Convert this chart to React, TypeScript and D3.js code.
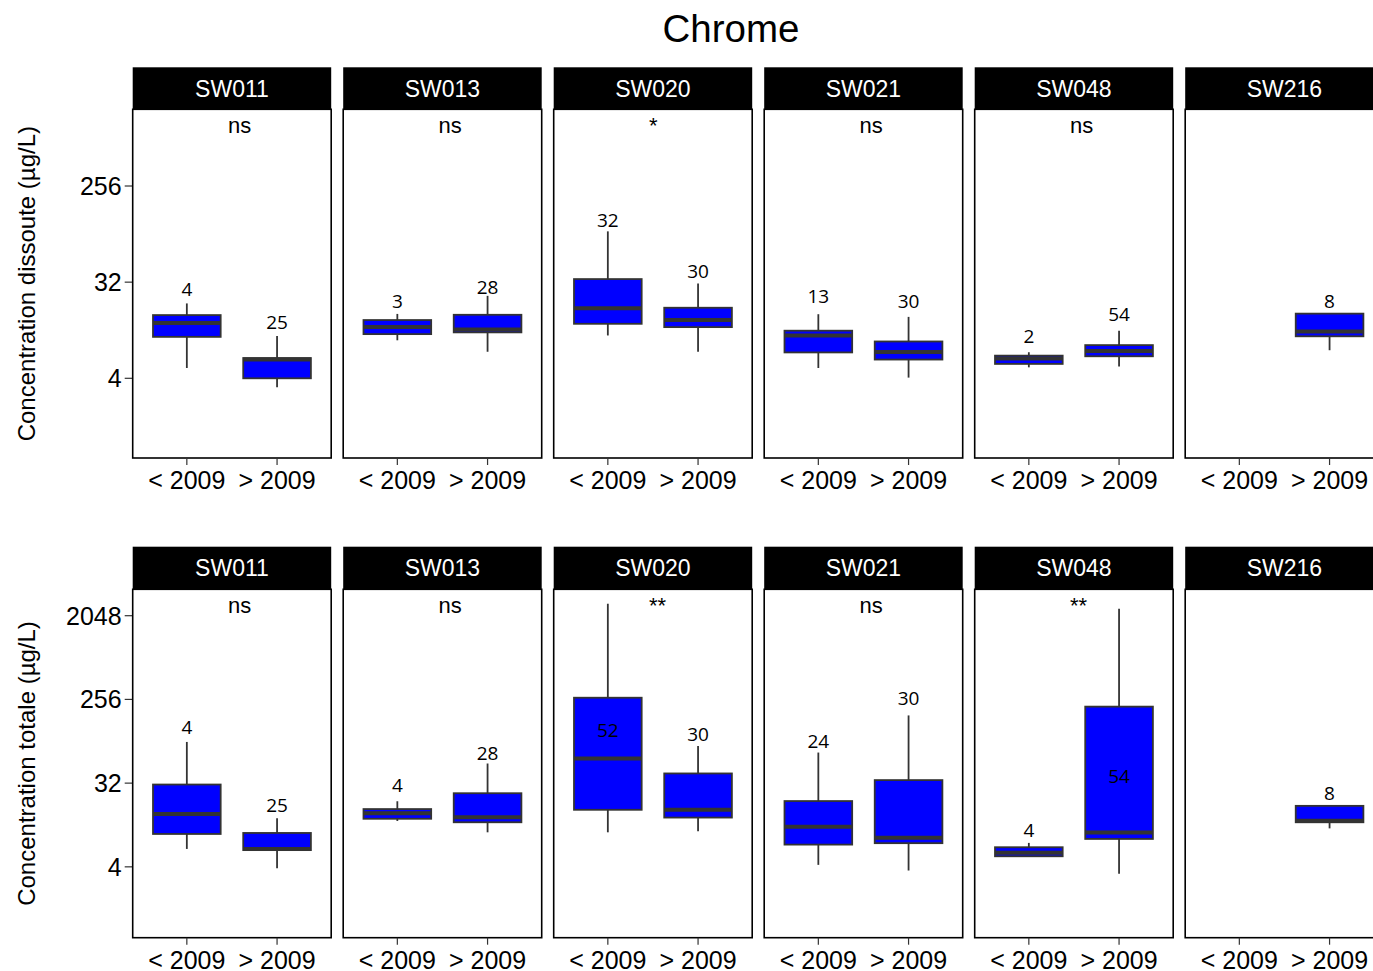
import React from "react";
import * as d3 from "d3";

// ---- data ----
const title = "Chrome";
const sites = ["SW011", "SW013", "SW020", "SW021", "SW048", "SW216"];
const periods = ["< 2009", "> 2009"];

// Dissolved concentration (µg/L): [< 2009, > 2009] per site (null = no data)
const dissMin = [[5.0, 3.3], [9.1, 7.1], [10.1, 7.1], [5.0, 4.06], [5.07, 5.16], [null, 7.34]];
const dissQ1 = [[9.8, 4.0], [10.4, 10.8], [13.0, 12.1], [7.0, 6.0], [5.46, 6.44], [null, 9.92]];
const dissMed = [[13.2, 6.0], [12.1, 11.5], [18.2, 14.1], [10.1, 7.07], [6.13, 7.2], [null, 11.0]];
const dissQ3 = [[15.7, 6.2], [14.1, 15.8], [34.2, 18.4], [11.2, 8.87], [6.53, 8.2], [null, 16.2]];
const dissMax = [[20.2, 10.0], [16.1, 23.8], [96, 31.1], [16, 15.1], [7.03, 11.2], [null, 16.2]];
const dissN = [[4, 25], [3, 28], [32, 30], [13, 30], [2, 54], [null, 8]];
const dissLabelY = [[27.5, 13.5], [21.4, 28.5], [123, 40.3], [23.4, 21.3], [9.87, 16], [null, 21.3]];
const dissSig = ["ns", "ns", "*", "ns", "ns", ""];
const dissDomain = [0.7136, 1345];
const dissTicks = [4, 32, 256];

// Total concentration (µg/L)
const totMin = [[6.24, 3.87], [12.5, 9.43], [9.43, 9.66], [4.2, 3.65], [5.2, 3.36], [null, 10.4]];
const totQ1 = [[9.05, 6.06], [13.2, 12.1], [16.5, 13.6], [6.95, 7.2], [5.2, 8.0], [null, 12.1]];
const totMed = [[14.9, 6.24], [15.1, 13.7], [58.9, 16.5], [10.8, 8.26], [5.66, 9.37], [null, 12.6]];
const totQ3 = [[30.9, 9.28], [16.8, 24.9], [267, 40.7], [20.5, 34.5], [6.51, 214], [null, 18.2]];
const totMax = [[89, 13.4], [20.4, 52.1], [2757, 80.6], [68.4, 172], [7.25, 2435], [null, 18.2]];
const totN = [[4, 25], [4, 28], [52, 30], [24, 30], [4, 54], [null, 8]];
const totLabelY = [[127, 18.6], [30.4, 67.3], [119, 109], [91.3, 267], [9.83, 38.3], [null, 25]];
const totSig = ["ns", "ns", "**", "ns", "**", ""];
const totDomain = [0.688, 3946];
const totTicks = [4, 32, 256, 2048];

const yTitles = ["Concentration dissoute (µg/L)", "Concentration totale (µg/L)"];

// ---- layout ----
const W = 1373;
const H = 971;
const panelLeft0 = 132.7;
const panelStep = 210.5;
const panelW = 198.5;
const rows = [
  { stripTop: 67.3, panelTop: 109.3, panelBottom: 458 },
  { stripTop: 546.7, panelTop: 589.3, panelBottom: 937.7 },
];
const FONT = "'Liberation Sans', Arial, Helvetica, sans-serif";
const LABEL_FONT = "'Open Sans', 'Noto Sans', sans-serif";

type RowData = {
  min: (number | null)[][];
  q1: (number | null)[][];
  med: (number | null)[][];
  q3: (number | null)[][];
  max: (number | null)[][];
  n: (number | null)[][];
  labelY: (number | null)[][];
  sig: string[];
  domain: number[];
  ticks: number[];
};

const rowData: RowData[] = [
  { min: dissMin, q1: dissQ1, med: dissMed, q3: dissQ3, max: dissMax, n: dissN, labelY: dissLabelY, sig: dissSig, domain: dissDomain, ticks: dissTicks },
  { min: totMin, q1: totQ1, med: totMed, q3: totQ3, max: totMax, n: totN, labelY: totLabelY, sig: totSig, domain: totDomain, ticks: totTicks },
];

function Row({ r }: { r: number }) {
  const L = rows[r];
  const D = rowData[r];
  const y = d3.scaleLog().base(2).domain(D.domain).range([L.panelBottom, L.panelTop]);
  const x = d3.scalePoint<string>().domain(periods).range([0, panelW]).padding(0.6);
  const bw = x.step() * 0.75;
  const stripH = L.panelTop - L.stripTop;
  const midY = (L.panelTop + L.panelBottom) / 2;
  return (
    <g>
      {/* y axis title */}
      <text
        transform={`translate(35,${midY}) rotate(-90)`}
        textAnchor="middle"
        fontFamily={FONT}
        fontSize={24}
        fill="#000"
      >
        {yTitles[r]}
      </text>
      {/* y ticks */}
      {D.ticks.map((t) => (
        <g key={t}>
          <line x1={panelLeft0 - 8} x2={panelLeft0} y1={y(t)} y2={y(t)} stroke="#333" strokeWidth={1.2} />
          <text
            x={panelLeft0 - 11}
            y={y(t)}
            dy="0.36em"
            textAnchor="end"
            fontFamily={FONT}
            fontSize={25}
            fill="#000"
          >
            {t}
          </text>
        </g>
      ))}
      {sites.map((s, i) => {
        const px = panelLeft0 + i * panelStep;
        return (
          <g key={s} transform={`translate(${px},0)`}>
            {/* strip */}
            <rect x={0} y={L.stripTop} width={panelW} height={stripH} fill="#000" />
            <text
              x={panelW / 2}
              y={L.stripTop + stripH / 2}
              dy="0.36em"
              textAnchor="middle"
              fontFamily={FONT}
              fontSize={23}
              fill="#fff"
            >
              {s}
            </text>
            {/* panel */}
            <rect
              x={0}
              y={L.panelTop}
              width={panelW}
              height={L.panelBottom - L.panelTop}
              fill="#fff"
              stroke="#000"
              strokeWidth={1.6}
            />
            {/* significance */}
            {D.sig[i] && (
              <text
                x={panelW / 2 - 4}
                y={L.panelTop + 23.4}
                textAnchor="start"
                fontFamily={FONT}
                fontSize={22}
                fill="#000"
              >
                {D.sig[i]}
              </text>
            )}
            {/* boxes */}
            {periods.map((p, j) => {
              const cx = x(p) as number;
              const mn = D.min[i][j];
              if (mn == null) return null;
              const q1 = D.q1[i][j] as number;
              const md = D.med[i][j] as number;
              const q3 = D.q3[i][j] as number;
              const mx = D.max[i][j] as number;
              return (
                <g key={p}>
                  <line x1={cx} x2={cx} y1={y(mx)} y2={y(q3)} stroke="#333" strokeWidth={1.8} />
                  <line x1={cx} x2={cx} y1={y(q1)} y2={y(mn)} stroke="#333" strokeWidth={1.8} />
                  <rect
                    x={cx - bw / 2}
                    y={y(q3)}
                    width={bw}
                    height={Math.max(0, y(q1) - y(q3))}
                    fill="#0000ff"
                    stroke="#333"
                    strokeWidth={1.8}
                  />
                  <line
                    x1={cx - bw / 2}
                    x2={cx + bw / 2}
                    y1={y(md)}
                    y2={y(md)}
                    stroke="#333"
                    strokeWidth={4}
                  />
                  <text
                    x={cx}
                    y={y(D.labelY[i][j] as number)}
                    dy="0.36em"
                    textAnchor="middle"
                    fontFamily={LABEL_FONT}
                    fontSize={19}
                    fill="#000"
                  >
                    {D.n[i][j]}
                  </text>
                </g>
              );
            })}
            {/* x ticks */}
            {periods.map((p) => (
              <g key={p}>
                <line
                  x1={x(p) as number}
                  x2={x(p) as number}
                  y1={L.panelBottom}
                  y2={L.panelBottom + 7}
                  stroke="#333"
                  strokeWidth={1.2}
                />
                <text
                  x={x(p) as number}
                  y={L.panelBottom + 31}
                  textAnchor="middle"
                  fontFamily={FONT}
                  fontSize={25}
                  fill="#000"
                >
                  {p}
                </text>
              </g>
            ))}
          </g>
        );
      })}
    </g>
  );
}

export default function App() {
  return (
    <svg
      width={W}
      height={H}
      style={{ position: "absolute", left: 0, top: 0, background: "#fff" }}
      xmlns="http://www.w3.org/2000/svg"
    >
      <rect x={0} y={0} width={W} height={H} fill="#fff" />
      <text x={731} y={42} textAnchor="middle" fontFamily={FONT} fontSize={38.5} fill="#000">
        {title}
      </text>
      <Row r={0} />
      <Row r={1} />
    </svg>
  );
}
